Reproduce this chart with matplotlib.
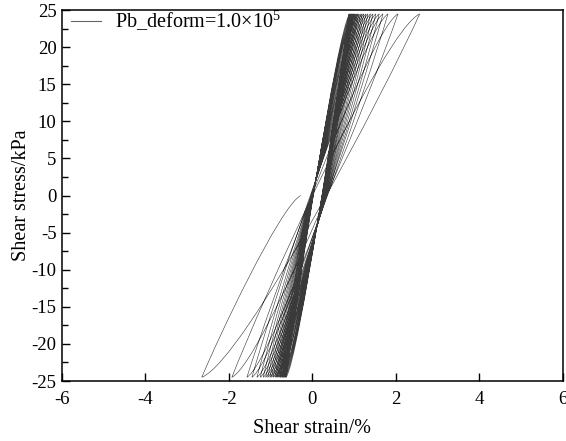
import matplotlib
matplotlib.use("Agg")
import matplotlib.pyplot as plt
from matplotlib.path import Path
from matplotlib.patches import PathPatch
from matplotlib.ticker import MultipleLocator

plt.rcParams["font.family"] = ["Liberation Serif", "DejaVu Serif"]
plt.rcParams["mathtext.fontset"] = "custom"
plt.rcParams["mathtext.rm"] = "Liberation Serif"
plt.rcParams["axes.unicode_minus"] = False

# stress amplitude of the test (kPa) and strain where the record starts
PEAK_STRESS = 24.5
START_STRAIN = -0.28

# strain (%) at each stress reversal, in cycle order
top_tips = [2.57, 2.05, 1.81, 1.69, 1.60, 1.52, 1.45, 1.39, 1.33, 1.28, 1.23, 1.19,
            1.15, 1.11, 1.08, 1.05, 1.02, 0.99, 0.97, 0.95, 0.93, 0.91, 0.89, 0.87]
bottom_tips = [-2.65, -1.93, -1.57, -1.45, -1.33, -1.25, -1.18, -1.12, -1.07, -1.02, -0.98, -0.94,
               -0.90, -0.87, -0.84, -0.81, -0.78, -0.76, -0.73, -0.71, -0.69, -0.67, -0.65, -0.63]

LABEL = "Pb_deform=1.0×10$^5$"

# bezier handles of a loading branch, as fractions of its own box (lower-left -> upper-right)
UP_HANDLES = [(0.20, 0.05), (0.85, 0.80)]
# unloading branch: the same shape turned half round
DOWN_HANDLES = [(0.15, 0.20), (0.80, 0.95)]


def _box(lo, hi, frac):
    return (lo[0] + frac[0] * (hi[0] - lo[0]), lo[1] + frac[1] * (hi[1] - lo[1]))


def build_path():
    verts = [(START_STRAIN, 0.0)]
    codes = [Path.MOVETO]

    def up(lo, hi):
        verts.extend([_box(lo, hi, UP_HANDLES[0]), _box(lo, hi, UP_HANDLES[1]), hi])
        codes.extend([Path.CURVE4] * 3)

    def down(hi, lo):
        verts.extend([_box(lo, hi, DOWN_HANDLES[1]), _box(lo, hi, DOWN_HANDLES[0]), lo])
        codes.extend([Path.CURVE4] * 3)

    # first loading towards the negative peak
    down((START_STRAIN, 0.0), (bottom_tips[0], -PEAK_STRESS))
    for i, (b, t) in enumerate(zip(bottom_tips, top_tips)):
        up((b, -PEAK_STRESS), (t, PEAK_STRESS))
        if i + 1 < len(bottom_tips):
            down((t, PEAK_STRESS), (bottom_tips[i + 1], -PEAK_STRESS))
    return Path(verts, codes)


fig = plt.figure(figsize=(5.66, 4.41), dpi=100)
ax = fig.add_axes([0.1095, 0.136, 0.885, 0.841])

ax.add_patch(PathPatch(build_path(), fill=False, edgecolor="#3a3a3a", linewidth=0.42))
ax.plot([], [], color="#666666", linewidth=0.8, label=LABEL)

ax.set_xlim(-6, 6)
ax.set_ylim(-25, 25)
ax.xaxis.set_major_locator(MultipleLocator(2))
ax.yaxis.set_major_locator(MultipleLocator(5))
ax.yaxis.set_minor_locator(MultipleLocator(2.5))
ax.tick_params(which="both", direction="in", labelsize=13.5, top=False, right=False)
ax.tick_params(axis="x", which="major", length=6, width=1, pad=7)
ax.tick_params(axis="y", which="major", length=6, width=1, pad=4)
ax.tick_params(which="minor", length=4, width=1)
for s in ax.spines.values():
    s.set_linewidth(1.1)

ax.set_xlabel("Shear strain/%", fontsize=14.5, labelpad=8)
ax.set_ylabel("Shear stress/kPa", fontsize=14.5, labelpad=0)

ax.legend(loc="upper left", bbox_to_anchor=(0.01, 1.015), frameon=False, fontsize=14.5,
          handlelength=1.5, borderaxespad=0.0, borderpad=0.2, handletextpad=0.7)

fig.savefig("out.png", dpi=100)
